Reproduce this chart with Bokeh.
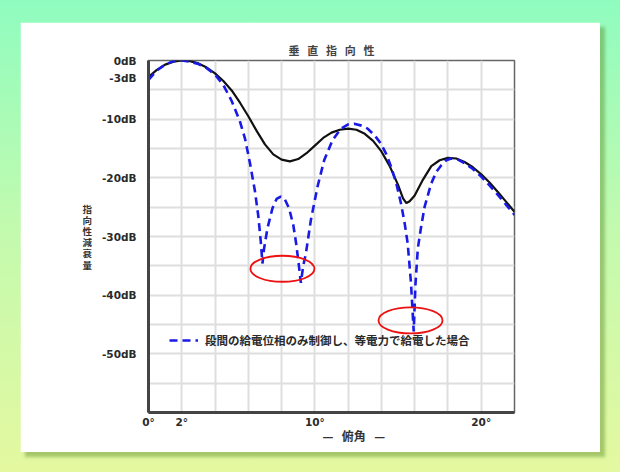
from bokeh.plotting import figure
from bokeh.models import FixedTicker, Legend, LegendItem, Title
from bokeh.layouts import column
from bokeh.embed import file_html
from bokeh.resources import INLINE

# ---- data ----
angle_black = [0.0, 0.5, 1.0, 1.5, 2.0, 2.5, 3.0, 3.5, 4.0, 4.5, 5.0, 5.5, 6.0, 6.5, 7.0, 7.5,
               8.0, 8.5, 9.0, 9.5, 10.0, 10.5, 11.0, 11.5, 12.0, 12.5, 13.0, 13.5, 14.0, 14.5,
               15.0, 15.3, 15.5, 15.7, 16.0, 16.5, 17.0, 17.5, 18.0, 18.5, 19.0, 19.5, 20.0,
               20.5, 21.0, 21.5, 22.0]
db_black = [-2.8, -1.6, -0.7, -0.2, 0.0, -0.1, -0.5, -1.2, -2.2, -3.5, -5.1, -7.2, -9.5, -12.0,
            -14.3, -16.0, -16.9, -17.2, -16.8, -15.8, -14.5, -13.2, -12.3, -11.8, -11.6, -11.8,
            -12.5, -13.7, -15.5, -18.0, -21.2, -23.5, -24.3, -24.0, -23.0, -20.3, -18.0, -17.0,
            -16.6, -16.7, -17.3, -18.2, -19.4, -20.8, -22.4, -24.1, -25.8]

angle_blue = [0.0, 0.5, 1.0, 1.5, 2.0, 2.5, 3.0, 3.5, 4.0, 4.5, 5.0, 5.5, 5.8, 6.1, 6.4, 6.6,
              6.75, 6.85, 6.95, 7.15, 7.45, 7.7, 7.95, 8.2, 8.45, 8.7, 8.86, 9.0, 9.16, 9.3,
              9.46, 9.76, 10.16, 10.56, 11.06, 11.57, 12.0, 12.37, 12.8, 13.17, 13.6, 13.98,
              14.3, 14.58, 14.9, 15.18, 15.4, 15.58, 15.78, 15.94, 16.05, 16.19, 16.39, 16.6,
              16.99, 17.3, 17.59, 17.9, 18.19, 18.6, 19.0, 19.5, 20.0, 20.5, 21.0, 21.5, 22.0]
db_blue = [-3.3, -1.7, -0.7, -0.1, 0.0, -0.2, -0.6, -1.3, -2.4, -4.2, -6.9, -10.4, -13.3, -17.5,
           -22.3, -26.5, -30.9, -34.6, -32.0, -28.6, -25.2, -23.6, -23.2, -23.7, -25.2, -28.0,
           -30.9, -34.0, -37.9, -35.0, -32.9, -27.2, -21.5, -17.0, -13.6, -11.6, -10.9, -10.8,
           -11.1, -11.6, -12.8, -14.2, -16.0, -18.1, -21.0, -24.4, -27.8, -31.2, -38.0, -46.2,
           -38.0, -32.0, -28.3, -24.9, -21.0, -19.0, -17.9, -17.0, -16.7, -16.9, -17.5, -18.5,
           -19.8, -21.3, -22.9, -24.6, -26.3]

mark_angle = [8.05, 15.75]
mark_db = [-35.5, -44.3]

x_ticks = [0, 2, 10, 20]
x_tick_labels = ["0°", "2°", "10°", "20°"]
y_ticks = [0, -3, -10, -20, -30, -40, -50]
y_tick_labels = ["0dB", "-3dB", "-10dB", "-20dB", "-30dB", "-40dB", "-50dB"]
x_grid = list(range(0, 23, 2))
y_grid = list(range(-60, 1, 5))

SP = "\u2002\u2009"
title_text = SP.join("垂直指向性")
y_label = "指\n向\n性\n減\n衰\n量"
x_label = "—" + SP + "俯角" + SP + "—"
legend_label = "段間の給電位相のみ制御し、等電力で給電した場合"

# ---- figure ----
JP = "Noto Sans CJK JP"
p = figure(width=580, height=430, x_range=(0, 22), y_range=(-60, 0),
           output_backend="svg", toolbar_location=None,
           min_border_left=128, min_border_right=86, min_border_top=38, min_border_bottom=40,
           margin=(22, 20, 20, 20))
p.border_fill_color = "white"
p.background_fill_color = "white"
p.outline_line_color = "#666666"
p.outline_line_width = 1.5
p.styles = {"box-shadow": "5px 5px 3px rgba(90,140,40,0.45)"}

p.title.text = title_text
p.title.align = "center"
p.title.text_font = JP
p.title.text_font_size = "11px"
p.title.text_font_style = "bold"
p.title.text_color = "#444444"
p.title.standoff = 6

# grid
p.xgrid.ticker = FixedTicker(ticks=x_grid)
p.ygrid.ticker = FixedTicker(ticks=y_grid)
for g in (p.xgrid, p.ygrid):
    g.grid_line_color = "#dedede"
    g.grid_line_width = 2

# axes
p.xaxis.ticker = FixedTicker(ticks=x_ticks)
p.xaxis.major_label_overrides = dict(zip(x_ticks, x_tick_labels))
p.yaxis.ticker = FixedTicker(ticks=y_ticks)
p.yaxis.major_label_overrides = dict(zip(y_ticks, y_tick_labels))
for ax in (p.xaxis, p.yaxis):
    ax.axis_line_color = "#444444"
    ax.axis_line_width = 3
    ax.major_tick_line_color = None
    ax.minor_tick_line_color = None
    ax.major_label_text_font = "DejaVu Sans"
    ax.major_label_text_font_size = "10.5px"
    ax.major_label_text_font_style = "bold"
    ax.major_label_text_color = "#2a2a2a"
p.xaxis.major_label_standoff = -3
p.yaxis.major_label_standoff = 6

p.yaxis.axis_label = y_label
p.yaxis.axis_label_orientation = "horizontal"
p.yaxis.axis_label_text_font = JP
p.yaxis.axis_label_text_font_size = "9.5px"
p.yaxis.axis_label_text_font_style = "bold"
p.yaxis.axis_label_text_color = "#333333"
p.yaxis.axis_label_text_line_height = 0.8
p.yaxis.axis_label_standoff = 7

# curves
r_black = p.line(angle_black, db_black, line_color="#111111", line_width=2.2)
r_blue = p.line(angle_blue, db_blue, line_color="#1a1ae6", line_width=2.6, line_dash="8 5")

# red marks
p.ellipse(mark_angle, mark_db, width=64, height=26, width_units="screen", height_units="screen",
          fill_color=None, line_color="#ee1111", line_width=1.8)

# legend
legend = Legend(items=[LegendItem(label=legend_label, renderers=[r_blue])],
                location=(21, 62), padding=0, margin=0, spacing=0,
                glyph_width=29, glyph_height=20, label_height=20, label_standoff=7,
                label_text_font=JP, label_text_font_size="11.5px",
                label_text_color="#2a2a2a", label_text_font_style="bold",
                border_line_color=None, background_fill_alpha=0)
p.add_layout(legend, "center")

# x axis caption
p.add_layout(Title(text=x_label, align="left", offset=174, standoff=-12,
                   text_font=JP, text_font_size="12px", text_font_style="bold",
                   text_color="#333333"), "below")

layout = column(p, width=620, height=472, sizing_mode="fixed",
                styles={"background": "linear-gradient(180deg, #8ffcbf 0%, #c4faae 50%, #e4f8a0 100%)"})

open("out.html", "w").write(file_html(layout, INLINE))
